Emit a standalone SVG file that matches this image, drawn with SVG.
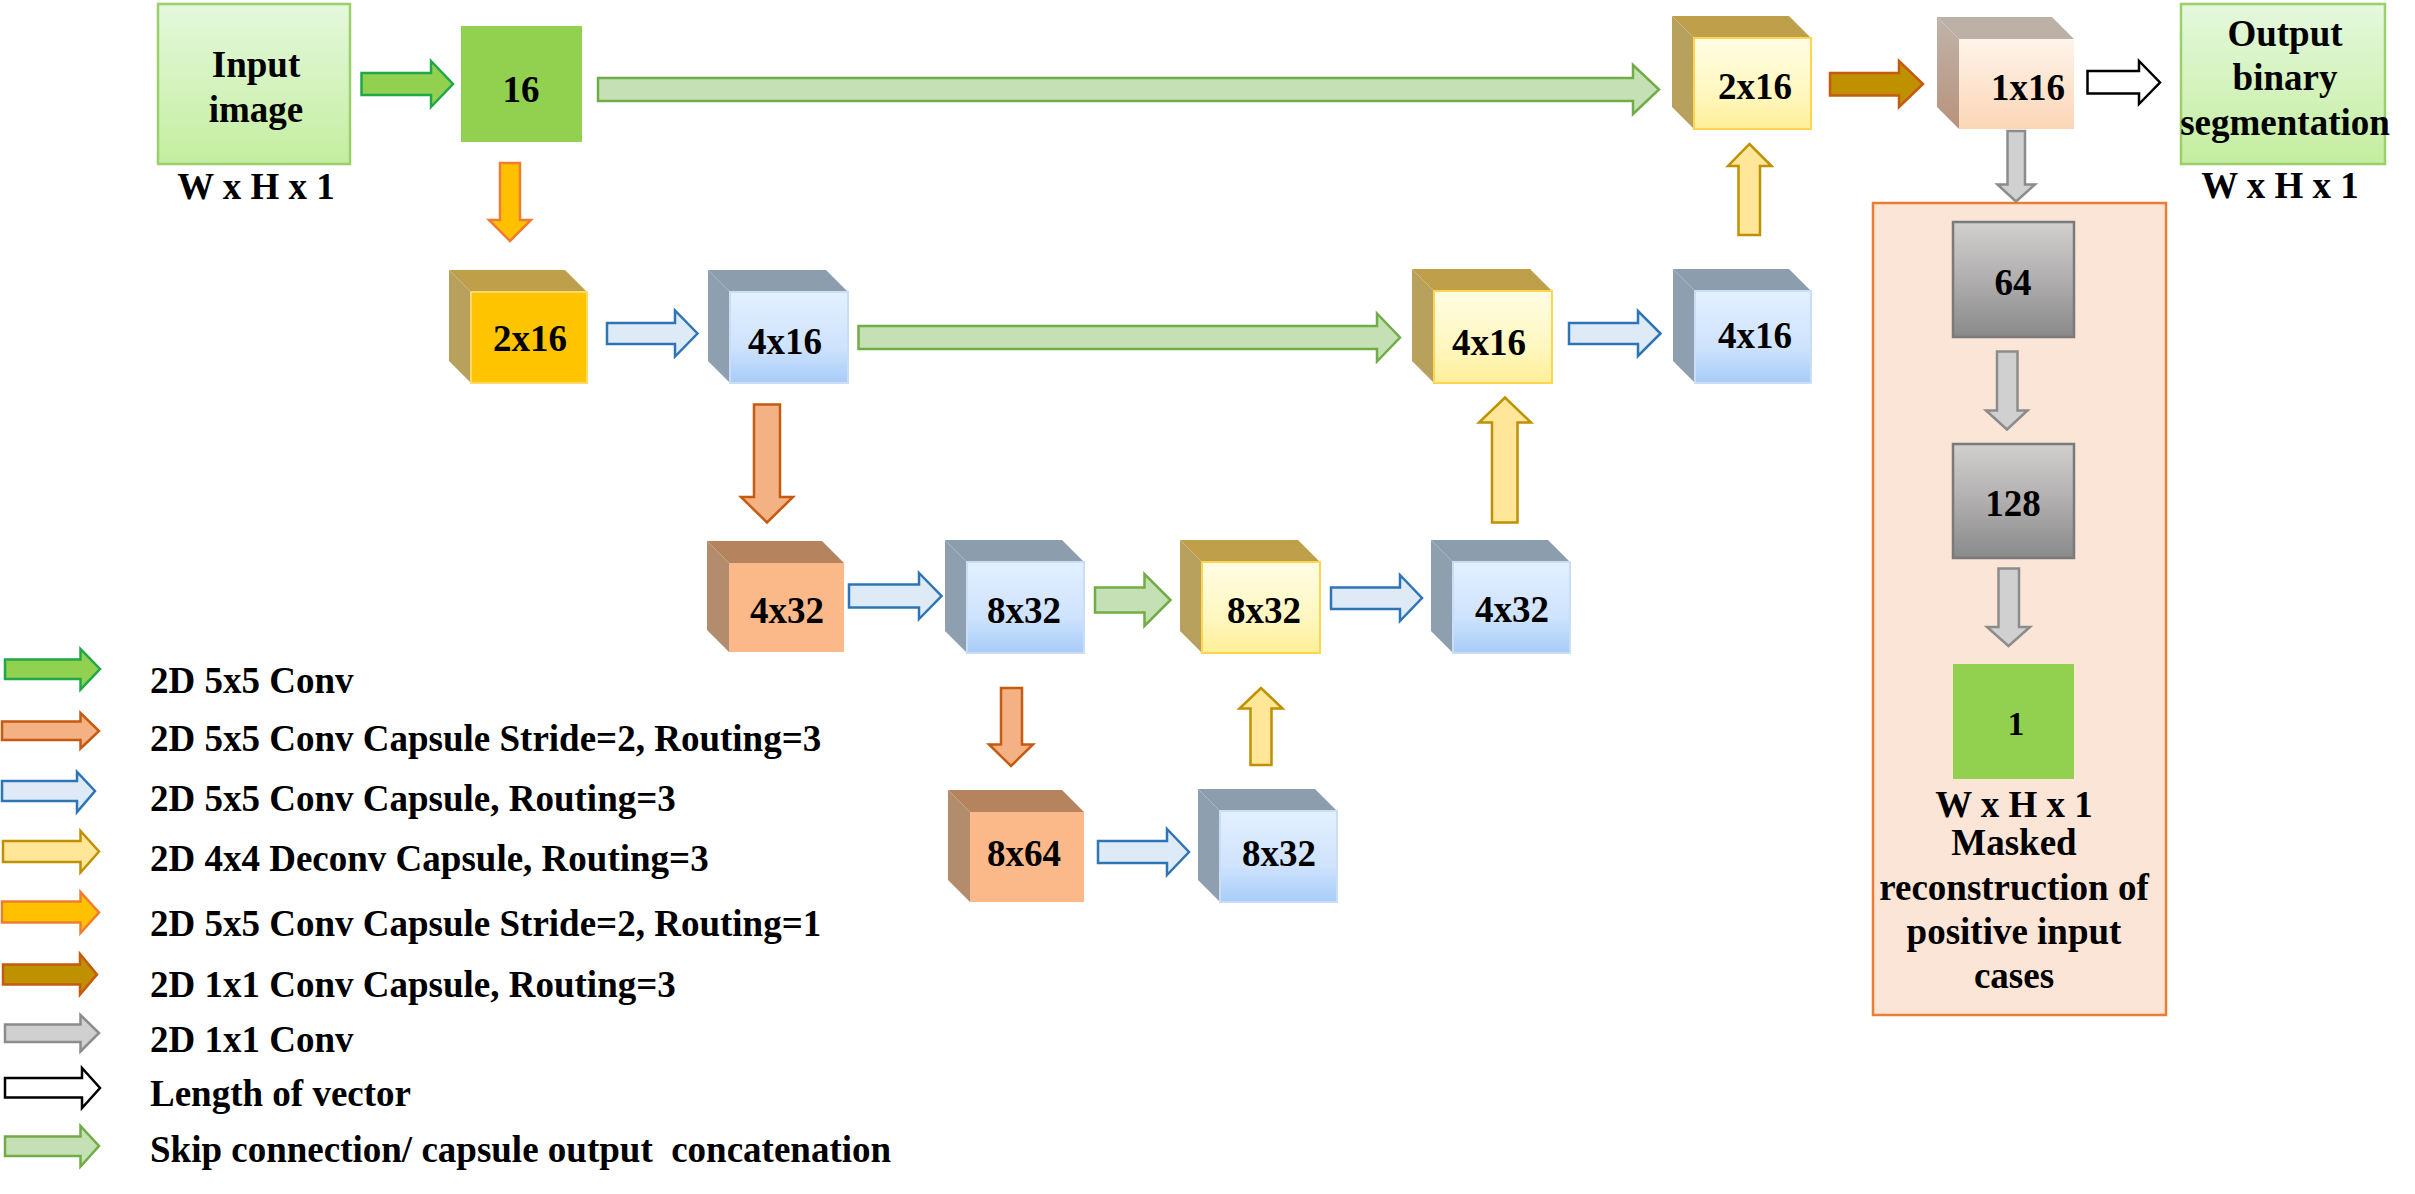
<svg xmlns="http://www.w3.org/2000/svg" width="2415" height="1194" viewBox="0 0 2415 1194">
  <style>
    text { font-family: "Liberation Serif", "Times New Roman", serif; font-weight: bold; fill: #000; }
    .lbl { font-size: 37px; text-anchor: middle; }
    .leg { font-size: 37px; white-space: pre; }
    .conv { fill: #92d050; stroke: #1fa84a; stroke-width: 2.5; }
    .skip { fill: #c5e0b4; stroke: #70ad47; stroke-width: 2.5; }
    .caps { fill: #deebf7; stroke: #2e75b6; stroke-width: 2.5; }
    .deconv { fill: #ffe699; stroke: #bf9000; stroke-width: 2.5; }
    .stride3 { fill: #f4b183; stroke: #c55a11; stroke-width: 2.5; }
    .stride1 { fill: #ffc000; stroke: #ed7d31; stroke-width: 2.5; }
    .one { fill: #bf9000; stroke: #c55a11; stroke-width: 2.5; }
    .gray { fill: #d0d0d0; stroke: #8c8c8c; stroke-width: 2.5; }
    .len { fill: #ffffff; stroke: #000000; stroke-width: 2.5; }
    .gold-top { fill: #bf9f4a; }
    .gold-side { fill: #b7a15d; }
    .blue-top { fill: #8c9eae; }
    .blue-side { fill: #8e9fb0; }
    .org-top { fill: #b5845f; }
    .org-side { fill: #b38b6d; }
    .peach-top { fill: #bdb0a6; }
    .peach-side { fill: url(#gPeachSide); }
    .f-gold { fill: #ffc400; stroke: #ffd966; stroke-width: 2; }
    .f-blue { fill: url(#gBlue); stroke: #c9def5; stroke-width: 2; }
    .f-yel { fill: url(#gYel); stroke: #ffd54f; stroke-width: 2; }
    .f-org { fill: #fbb98a; }
    .f-peach { fill: url(#gPeach); }
    .io { fill: url(#gIO); stroke: #9bcf6a; stroke-width: 2.5; }
    .dense { fill: url(#gGray); stroke: #7a7a7a; stroke-width: 2.5; }
  </style>
  <defs>
    <linearGradient id="gBlue" x1="0" y1="0" x2="0" y2="1">
      <stop offset="0" stop-color="#e3f0ff"/>
      <stop offset="0.6" stop-color="#cfe3fd"/>
      <stop offset="1" stop-color="#a7ccf8"/>
    </linearGradient>
    <linearGradient id="gYel" x1="0" y1="0" x2="0" y2="1">
      <stop offset="0" stop-color="#fffde4"/>
      <stop offset="0.6" stop-color="#fff7c0"/>
      <stop offset="1" stop-color="#ffef98"/>
    </linearGradient>
    <linearGradient id="gPeach" x1="0" y1="0" x2="0" y2="1">
      <stop offset="0" stop-color="#fff4ea"/>
      <stop offset="1" stop-color="#fbd6b6"/>
    </linearGradient>
    <linearGradient id="gPeachSide" x1="0" y1="0" x2="0" y2="1">
      <stop offset="0" stop-color="#c0b4ab"/>
      <stop offset="1" stop-color="#b8927c"/>
    </linearGradient>
    <linearGradient id="gIO" x1="0" y1="0" x2="0" y2="1">
      <stop offset="0" stop-color="#e5f8dd"/>
      <stop offset="1" stop-color="#c4eea0"/>
    </linearGradient>
    <linearGradient id="gGray" x1="0" y1="0" x2="0" y2="1">
      <stop offset="0" stop-color="#d2cfcf"/>
      <stop offset="0.5" stop-color="#b0aeae"/>
      <stop offset="1" stop-color="#8a8a8a"/>
    </linearGradient>
  </defs>

  <rect width="2415" height="1194" fill="#ffffff"/>

  <!-- reconstruction panel -->
  <g id="recon-panel">
    <rect x="1873" y="203" width="293" height="812" fill="#fbe5d6" stroke="#ed7d31" stroke-width="2.5"/>
  </g>

  <!-- connectors -->
  <g id="connectors">
    <path class="conv" d="M361.5,73 H431 V61 L453,84 L431,107 V95 H361.5 Z"/>
    <path class="skip" d="M598,78 H1633 V65 L1659,89.5 L1633,114 V101 H598 Z"/>
    <path class="one" d="M1830,73 H1899 V61 L1923,84 L1899,107 V95.5 H1830 Z"/>
    <path class="len" d="M2087.5,71 H2139 V61 L2160,82.5 L2139,104 V93.5 H2087.5 Z"/>
    <path class="stride1" d="M500,163 V220 H489 L510,241 L531,220 H520 V163 Z"/>
    <path class="caps" d="M607,323 H675 V310.5 L697.5,333.5 L675,356.5 V344 H607 Z"/>
    <path class="skip" d="M858.5,326 H1377 V313.5 L1400,337.5 L1377,361.5 V349 H858.5 Z"/>
    <path class="caps" d="M1569,323 H1638 V311 L1660.5,333.5 L1638,356 V344 H1569 Z"/>
    <path class="stride3" d="M754,404.5 V497 H741 L767,522.5 L793,497 H780 V404.5 Z"/>
    <path class="caps" d="M849,584.5 H919 V573 L941.5,596 L919,619 V607.5 H849 Z"/>
    <path class="skip" d="M1095,587.5 H1144.5 V574 L1170.5,600 L1144.5,626 V612.5 H1095 Z"/>
    <path class="caps" d="M1331,587.5 H1400 V575 L1422,598 L1400,621 V609 H1331 Z"/>
    <path class="stride3" d="M1001,688 V744.5 H989 L1011,766 L1033,744.5 H1022 V688 Z"/>
    <path class="caps" d="M1098,841 H1167 V829 L1189,852 L1167,875 V863 H1098 Z"/>
    <path class="deconv" d="M1250.5,765 V708.5 H1239.5 L1261,688 L1282.5,708.5 H1271.5 V765 Z"/>
    <path class="deconv" d="M1492,522.5 V422.5 H1479 L1505,397.5 L1531,422.5 H1517.5 V522.5 Z"/>
    <path class="deconv" d="M1738.5,235 V166 H1728 L1749.5,144 L1771.5,166 H1760 V235 Z"/>
    <path class="gray" d="M2007.5,131 V184.5 H1997.5 L2016,201.5 L2035,184.5 H2025 V131 Z"/>
    <path class="gray" d="M1997,351.5 V410.5 H1986 L2007,429.5 L2027.5,410.5 H2017.5 V351.5 Z"/>
    <path class="gray" d="M1998.5,568.5 V627 H1987 L2008.5,646 L2030,627 H2019 V568.5 Z"/>
  </g>

  <!-- input / output -->
  <g id="input-image">
    <rect class="io" x="158" y="4" width="192" height="160"/>
    <text class="lbl" x="256" y="77">Input</text>
    <text class="lbl" x="256" y="122">image</text>
    <text class="lbl" x="256" y="199">W x H x 1</text>
  </g>

  <g id="conv16">
    <rect x="461" y="26" width="121" height="116" fill="#92d050"/>
    <text class="lbl" x="521" y="102">16</text>
  </g>

  <g id="output-seg">
    <rect class="io" x="2181" y="4" width="204" height="160"/>
    <text class="lbl" x="2285" y="46">Output</text>
    <text class="lbl" x="2285" y="90">binary</text>
    <text class="lbl" x="2285" y="135">segmentation</text>
    <text class="lbl" x="2280" y="198">W x H x 1</text>
  </g>

  <!-- capsule layers (cubes) -->
  <g id="caps-2x16-down">
    <path class="gold-top" d="M449,270 H565 L587,292 H471 Z"/>
    <path class="gold-side" d="M449,270 L471,292 V383 L449,361 Z"/>
    <rect class="f-gold" x="471" y="292" width="116" height="91"/>
    <text class="lbl" x="530" y="351">2x16</text>
  </g>
  <g id="caps-4x16-down">
    <path class="blue-top" d="M708,270 H826 L848,292 H730 Z"/>
    <path class="blue-side" d="M708,270 L730,292 V383 L708,361 Z"/>
    <rect class="f-blue" x="730" y="292" width="118" height="91"/>
    <text class="lbl" x="785" y="354">4x16</text>
  </g>
  <g id="caps-4x32-down">
    <path class="org-top" d="M707,541 H822 L844,563 H729 Z"/>
    <path class="org-side" d="M707,541 L729,563 V652 L707,630 Z"/>
    <rect class="f-org" x="729" y="563" width="115" height="89"/>
    <text class="lbl" x="787" y="623">4x32</text>
  </g>
  <g id="caps-8x32-down">
    <path class="blue-top" d="M945,540 H1062 L1084,562 H967 Z"/>
    <path class="blue-side" d="M945,540 L967,562 V653 L945,631 Z"/>
    <rect class="f-blue" x="967" y="562" width="117" height="91"/>
    <text class="lbl" x="1024" y="623">8x32</text>
  </g>
  <g id="caps-8x64">
    <path class="org-top" d="M948,790 H1062 L1084,812 H970 Z"/>
    <path class="org-side" d="M948,790 L970,812 V902 L948,880 Z"/>
    <rect class="f-org" x="970" y="812" width="114" height="90"/>
    <text class="lbl" x="1024" y="866">8x64</text>
  </g>
  <g id="caps-8x32-bottom">
    <path class="blue-top" d="M1198,789 H1315 L1337,811 H1220 Z"/>
    <path class="blue-side" d="M1198,789 L1220,811 V902 L1198,880 Z"/>
    <rect class="f-blue" x="1220" y="811" width="117" height="91"/>
    <text class="lbl" x="1279" y="866">8x32</text>
  </g>
  <g id="caps-8x32-up">
    <path class="gold-top" d="M1180,540 H1298 L1320,562 H1202 Z"/>
    <path class="gold-side" d="M1180,540 L1202,562 V653 L1180,631 Z"/>
    <rect class="f-yel" x="1202" y="562" width="118" height="91"/>
    <text class="lbl" x="1264" y="623">8x32</text>
  </g>
  <g id="caps-4x32-up">
    <path class="blue-top" d="M1431,540 H1548 L1570,562 H1453 Z"/>
    <path class="blue-side" d="M1431,540 L1453,562 V653 L1431,631 Z"/>
    <rect class="f-blue" x="1453" y="562" width="117" height="91"/>
    <text class="lbl" x="1512" y="622">4x32</text>
  </g>
  <g id="caps-4x16-up">
    <path class="gold-top" d="M1412,269 H1530 L1552,291 H1434 Z"/>
    <path class="gold-side" d="M1412,269 L1434,291 V383 L1412,361 Z"/>
    <rect class="f-yel" x="1434" y="291" width="118" height="92"/>
    <text class="lbl" x="1489" y="355">4x16</text>
  </g>
  <g id="caps-4x16-right">
    <path class="blue-top" d="M1673,269 H1789 L1811,291 H1695 Z"/>
    <path class="blue-side" d="M1673,269 L1695,291 V383 L1673,361 Z"/>
    <rect class="f-blue" x="1695" y="291" width="116" height="92"/>
    <text class="lbl" x="1755" y="348">4x16</text>
  </g>
  <g id="caps-2x16-up">
    <path class="gold-top" d="M1672,16 H1789 L1811,38 H1694 Z"/>
    <path class="gold-side" d="M1672,16 L1694,38 V129 L1672,107 Z"/>
    <rect class="f-yel" x="1694" y="38" width="117" height="91"/>
    <text class="lbl" x="1755" y="99">2x16</text>
  </g>
  <g id="caps-1x16">
    <path class="peach-top" d="M1937,17 H2052 L2074,39 H1959 Z"/>
    <path class="peach-side" d="M1937,17 L1959,39 V129 L1937,107 Z"/>
    <rect class="f-peach" x="1959" y="39" width="115" height="90"/>
    <text class="lbl" x="2028" y="100">1x16</text>
  </g>

  <!-- reconstruction layers -->
  <g id="fc64">
    <rect class="dense" x="1953" y="222" width="121" height="115"/>
    <text class="lbl" x="2013" y="295">64</text>
  </g>
  <g id="fc128">
    <rect class="dense" x="1953" y="444" width="121" height="114"/>
    <text class="lbl" x="2013" y="516">128</text>
  </g>
  <g id="recon-out">
    <rect x="1953" y="664" width="121" height="115" fill="#92d050"/>
    <text class="lbl" x="2016" y="735" style="font-size:33px">1</text>
    <text class="lbl" x="2014" y="817">W x H x 1</text>
    <text class="lbl" x="2014" y="855">Masked</text>
    <text class="lbl" x="2014" y="900">reconstruction of</text>
    <text class="lbl" x="2014" y="944">positive input</text>
    <text class="lbl" x="2014" y="988">cases</text>
  </g>

  <!-- legend -->
  <g id="legend">
    <path class="conv" d="M5,659.5 H80.5 V649 L100,669 L80.5,689.5 V679 H5 Z"/>
    <path class="stride3" d="M2,721.5 H80.5 V713 L99,731 L80.5,748.5 V740 H2 Z"/>
    <path class="caps" d="M2,781 H77 V772 L95,791 L77,812 V801 H2 Z"/>
    <path class="deconv" d="M3,841 H80.5 V831 L99,851.5 L80.5,872.5 V862 H3 Z"/>
    <path class="stride1" d="M2,901.5 H80.5 V892 L99,912.5 L80.5,933 V922.5 H2 Z"/>
    <path class="one" d="M3,964.5 H80 V954 L97,974.5 L80,994.5 V984.5 H3 Z"/>
    <path class="gray" d="M5,1024.5 H80.5 V1015 L99,1033 L80.5,1051.5 V1042 H5 Z"/>
    <path class="len" d="M5,1078 H82 V1068 L100,1088 L82,1108 V1097.5 H5 Z"/>
    <path class="skip" d="M5,1136.5 H80.5 V1126 L99,1146 L80.5,1166.5 V1156 H5 Z"/>
    <text class="leg" x="150" y="693">2D 5x5 Conv</text>
    <text class="leg" x="150" y="751">2D 5x5 Conv Capsule Stride=2, Routing=3</text>
    <text class="leg" x="150" y="811">2D 5x5 Conv Capsule, Routing=3</text>
    <text class="leg" x="150" y="871">2D 4x4 Deconv Capsule, Routing=3</text>
    <text class="leg" x="150" y="936">2D 5x5 Conv Capsule Stride=2, Routing=1</text>
    <text class="leg" x="150" y="997">2D 1x1 Conv Capsule, Routing=3</text>
    <text class="leg" x="150" y="1052">2D 1x1 Conv</text>
    <text class="leg" x="150" y="1106">Length of vector</text>
    <text class="leg" x="150" y="1162">Skip connection/ capsule output  concatenation</text>
  </g>
</svg>
